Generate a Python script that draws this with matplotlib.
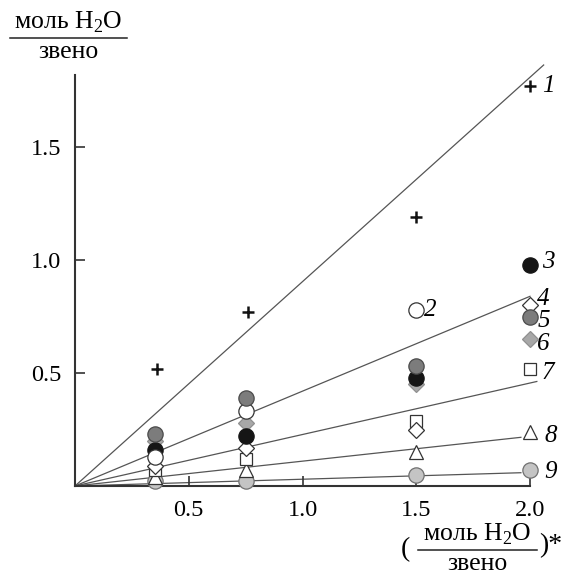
import matplotlib.pyplot as plt
from matplotlib.lines import Line2D

plt.rcParams["font.family"] = ["Liberation Serif", "DejaVu Serif"]
plt.rcParams["mathtext.fontset"] = "custom"
plt.rcParams["mathtext.rm"] = "Liberation Serif"

# data
x_vals = [0.35, 0.75, 1.5, 2.0]
plus_x = [0.36, 0.76, 1.5, 2.0]
s1 = [0.52, 0.77, 1.19, 1.77]
s2 = [0.13, 0.33, 0.78]
s3 = [0.16, 0.22, 0.48, 0.98]
s4 = [0.09, 0.17, 0.25, 0.80]
s5 = [0.23, 0.39, 0.53, 0.75]
s6 = [0.20, 0.28, 0.45, 0.65]
s7 = [0.07, 0.12, 0.29, 0.52]
s8 = [0.04, 0.07, 0.15, 0.24]
s9 = [0.02, 0.02, 0.05, 0.07]

# straight fits through the origin: slope and where each line stops
fit_slopes = [0.905, 0.42, 0.228, 0.11, 0.03]
fit_xend = [2.06, 2.0, 2.03, 1.96, 1.96]

labels = ["1", "2", "3", "4", "5", "6", "7", "8", "9"]
label_x = [2.08, 1.56, 2.08, 2.06, 2.06, 2.06, 2.08, 2.09, 2.09]
label_y = [1.77, 0.78, 0.99, 0.83, 0.73, 0.63, 0.50, 0.22, 0.06]

W, H = 564, 574
fig = plt.figure(figsize=(W / 100, H / 100), dpi=100)
ax = fig.add_axes([75 / W, 1 - 486 / H, 455 / W, 411 / H])

for k, xe in zip(fit_slopes, fit_xend):
    ax.plot([0, xe], [0, k * xe], color="#555555", lw=0.9, clip_on=False, zorder=1)

ax.plot(x_vals, s9, "o", ms=11, mfc="#c4c4c4", mec="#707070", mew=0.9, clip_on=False, zorder=3)
ax.plot(x_vals, s8, "^", ms=10, mfc="white", mec="#333333", mew=0.9, clip_on=False, zorder=3)
ax.plot(x_vals, s7, "s", ms=9, mfc="white", mec="#333333", mew=0.9, clip_on=False, zorder=3)
ax.plot(x_vals, s4, "D", ms=8.5, mfc="white", mec="#333333", mew=0.9, clip_on=False, zorder=4)
ax.plot(x_vals, s6, "D", ms=8.5, mfc="#a8a8a8", mec="#909090", mew=0.9, clip_on=False, zorder=4)
ax.plot(x_vals, s3, "o", ms=11, mfc="#151515", mec="#151515", mew=0.9, clip_on=False, zorder=5)
ax.plot(x_vals[:3], s2, "o", ms=11, mfc="white", mec="#333333", mew=0.9, clip_on=False, zorder=5)
ax.plot(x_vals, s5, "o", ms=11, mfc="#7c7c7c", mec="#4a4a4a", mew=0.9, clip_on=False, zorder=5)
ax.plot(plus_x, s1, "+", ms=8, mec="#111111", mew=1.8, clip_on=False, zorder=5)

for t, lx, ly in zip(labels, label_x, label_y):
    ax.text(lx, ly, t, fontsize=18, style="italic", ha="center", va="center", clip_on=False)

ax.set_xlim(0, 2.0)
ax.set_ylim(0, 1.82)
ax.set_xticks([0.5, 1.0, 1.5, 2.0])
ax.set_yticks([0.5, 1.0, 1.5])
ax.set_xticklabels(["0.5", "1.0", "1.5", "2.0"])
ax.set_yticklabels(["0.5", "1.0", "1.5"])
ax.tick_params(direction="in", length=7, width=1.2, color="#333333", labelsize=17.5, pad=10)
for side in ["top", "right"]:
    ax.spines[side].set_visible(False)
for side in ["left", "bottom"]:
    ax.spines[side].set_linewidth(1.5)
    ax.spines[side].set_color("#333333")


def frac(cx, cy_line, x0, x1):
    # numerator / bar / denominator in pixel coordinates
    fig.text(cx / W, 1 - (cy_line - 16) / H, r"моль H$_2$O", fontsize=18.5, ha="center", va="center")
    fig.text(cx / W, 1 - (cy_line + 14) / H, "звено", fontsize=18.5, ha="center", va="center")
    fig.add_artist(Line2D([x0 / W, x1 / W], [1 - cy_line / H, 1 - cy_line / H], color="#222222", lw=1.1))


frac(68, 38, 10, 127)
frac(477, 550, 418, 537)
fig.text(405 / W, 1 - 550 / H, "(", fontsize=20, ha="center", va="center")
fig.text(551 / W, 1 - 546 / H, ")*", fontsize=20, ha="center", va="center")

fig.savefig("out.png", dpi=100)
